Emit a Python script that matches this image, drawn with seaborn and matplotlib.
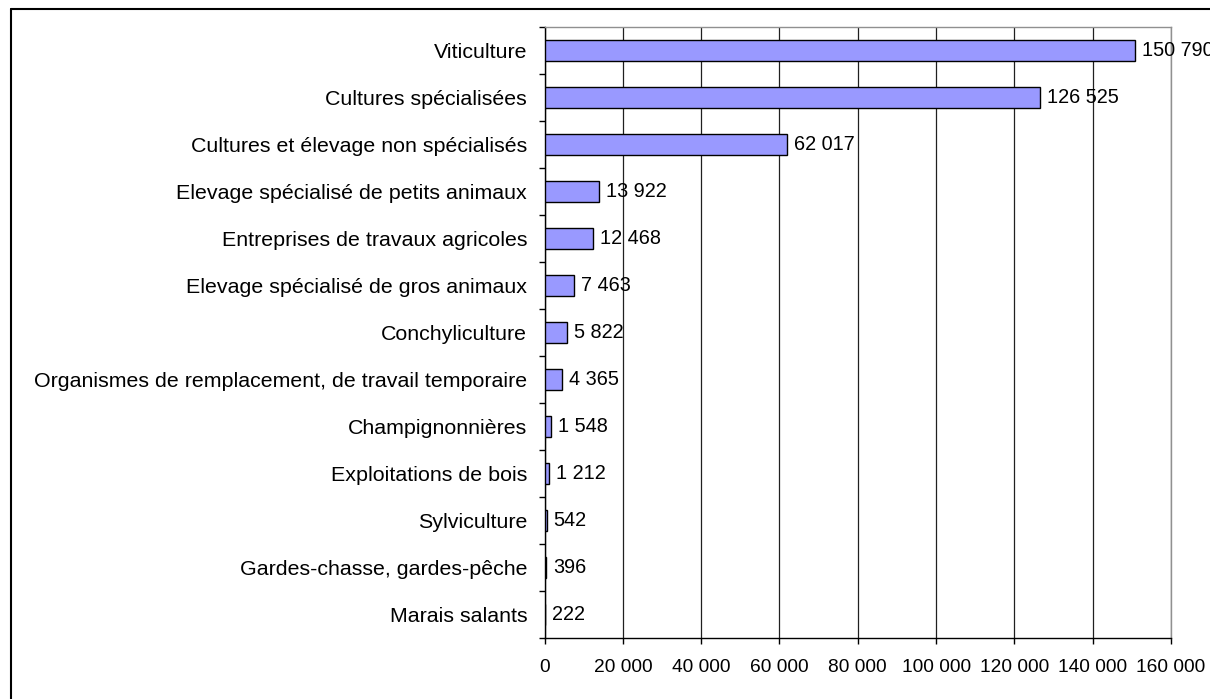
import numpy as np
import pandas as pd
import matplotlib
matplotlib.use("Agg")
import matplotlib.pyplot as plt
from matplotlib.lines import Line2D
from matplotlib.ticker import FuncFormatter, FixedLocator
import seaborn as sns

categories = [
    "Viticulture",
    "Cultures spécialisées",
    "Cultures et élevage non spécialisés",
    "Elevage spécialisé de petits animaux",
    "Entreprises de travaux agricoles",
    "Elevage spécialisé de gros animaux",
    "Conchyliculture",
    "Organismes de remplacement, de travail temporaire",
    "Champignonnières",
    "Exploitations de bois",
    "Sylviculture",
    "Gardes-chasse, gardes-pêche",
    "Marais salants",
]
values = [150790, 126525, 62017, 13922, 12468, 7463, 5822, 4365, 1548, 1212, 542, 396, 222]
x_ticks = [0, 20000, 40000, 60000, 80000, 100000, 120000, 140000, 160000]


def fmt(v):
    return f"{int(v):,}".replace(",", " ")


sns.set_style("white")
plt.rcParams["font.family"] = ["Liberation Sans", "DejaVu Sans"]

df = pd.DataFrame({"categorie": categories, "effectif": values})

fig = plt.figure(figsize=(12.1, 6.99), dpi=100)
ax = fig.add_axes([544.5 / 1210, 1 - 638 / 699, (1171 - 544.5) / 1210, (638 - 27) / 699])

sns.barplot(data=df, x="effectif", y="categorie", orient="h", color="#9999FF",
            saturation=1, edgecolor="black", linewidth=1.0, width=0.43, ax=ax, zorder=3)

ax.set_xlim(0, 160000)
ax.set_ylim(len(categories) - 0.5, -0.5)
ax.xaxis.set_major_locator(FixedLocator(x_ticks))
ax.xaxis.set_major_formatter(FuncFormatter(lambda v, p: fmt(v)))
ax.set_xlabel("")
ax.set_ylabel("")

# vertical grid only
ax.grid(axis="x", color="#202020", linewidth=0.9, zorder=0)
ax.grid(axis="y", visible=False)

for side in ["top", "right"]:
    ax.spines[side].set_color("#909090")
    ax.spines[side].set_linewidth(1.0)
for side in ["left", "bottom"]:
    ax.spines[side].set_color("black")
    ax.spines[side].set_linewidth(1.0)

ax.tick_params(axis="x", which="major", direction="out", length=4, width=1,
               color="black", pad=11, labelsize=13.8, labelcolor="black", bottom=True)
ax.tick_params(axis="y", which="major", length=0, pad=12.5, labelsize=15.4, labelcolor="black")
ax.set_yticks(np.arange(len(categories) + 1) - 0.5, minor=True)
ax.tick_params(axis="y", which="minor", direction="out", length=4.5, width=1,
               color="black", left=True)

for i, v in enumerate(values):
    ax.annotate(fmt(v), xy=(v, i), xytext=(5, 0), textcoords="offset points",
                ha="left", va="center", fontsize=14.3, color="black",
                annotation_clip=False, zorder=4)

# frame around the chart (only top and left edges are inside the image)
x0 = 11 / 1210
y0 = 1 - 9 / 699
fig.add_artist(Line2D([x0, x0], [0, y0], transform=fig.transFigure, color="black", linewidth=1.5))
fig.add_artist(Line2D([x0, 1], [y0, y0], transform=fig.transFigure, color="black", linewidth=1.5))

fig.savefig("out.png", dpi=100)
plt.close(fig)
